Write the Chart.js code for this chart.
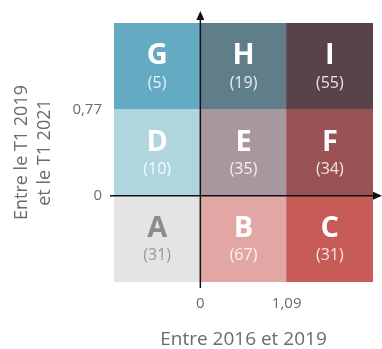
<!DOCTYPE html>
<html>
<head>
<meta charset="utf-8">
<script src="https://cdn.jsdelivr.net/npm/chart.js@4.4.1/dist/chart.umd.min.js"></script>
<style>
  html, body { margin: 0; padding: 0; background: #fff; }
  #wrap { width: 382px; height: 349px; }
</style>
</head>
<body>
<div id="wrap"><canvas id="grille"></canvas></div>
<script>
// Données de la matrice (lignes du bas vers le haut)
const columnCenters = [-0.5, 0.5, 1.5];
const rowBounds = [[-1, 0], [0, 1], [1, 2]];
const letters = [['A', 'B', 'C'], ['D', 'E', 'F'], ['G', 'H', 'I']];
const counts = [[31, 67, 31], [10, 35, 34], [5, 19, 55]];
const xTickValues = [0, 1];
const xTickLabels = ['0', '1,09'];
const yTickValues = [0, 1];
const yTickLabels = ['0', '0,77'];

// Couleurs
const cellColors = [
  ['#e4e4e4', '#e2a6a5', '#c65b57'],
  ['#afd5df', '#a8979f', '#9a5254'],
  ['#65aac3', '#607e8a', '#5a4249']
];
const letterColors = [
  ['#8c8c8c', '#ffffff', '#ffffff'],
  ['#ffffff', '#ffffff', '#ffffff'],
  ['#ffffff', '#ffffff', '#ffffff']
];
const countColors = [
  ['#999999', 'rgba(255,255,255,0.85)', 'rgba(255,255,255,0.85)'],
  ['rgba(255,255,255,0.9)', 'rgba(255,255,255,0.85)', 'rgba(255,255,255,0.85)'],
  ['rgba(255,255,255,0.85)', 'rgba(255,255,255,0.85)', 'rgba(255,255,255,0.85)']
];

const FONT = "'Open Sans', sans-serif";
const GREY = '#6b6b6b';

const datasets = rowBounds.map((b, r) => ({
  data: columnCenters.map(x => ({ x: x, y: b })),
  backgroundColor: cellColors[r],
  borderWidth: 0,
  barPercentage: 1,
  categoryPercentage: 1,
  grouped: false
}));

// lettres + effectifs au centre des cases
const cellLabels = {
  id: 'cellLabels',
  afterDatasetsDraw(chart) {
    const ctx = chart.ctx;
    ctx.save();
    ctx.textAlign = 'center';
    ctx.textBaseline = 'middle';
    chart.data.datasets.forEach((ds, r) => {
      chart.getDatasetMeta(r).data.forEach((el, c) => {
        const cy = (el.y + el.base) / 2;
        ctx.fillStyle = letterColors[r][c];
        ctx.font = "bold 29px " + FONT;
        ctx.fillText(letters[r][c], el.x, cy - 10);
        ctx.fillStyle = countColors[r][c];
        ctx.font = "16px " + FONT;
        ctx.fillText('(' + counts[r][c] + ')', el.x, cy + 17);
      });
    });
    ctx.restore();
  }
};

// axes avec flèches passant par (0,0)
const axesFleches = {
  id: 'axesFleches',
  afterDatasetsDraw(chart) {
    const { ctx, chartArea: a, scales: { x, y } } = chart;
    const x0 = x.getPixelForValue(0);
    const y0 = y.getPixelForValue(0);
    ctx.save();
    ctx.strokeStyle = '#111';
    ctx.fillStyle = '#111';
    ctx.lineWidth = 1.5;
    ctx.beginPath();
    ctx.moveTo(x0, a.bottom + 6);
    ctx.lineTo(x0, a.top - 5);
    ctx.moveTo(a.left - 4, y0);
    ctx.lineTo(a.right + 3, y0);
    ctx.stroke();
    ctx.beginPath();
    ctx.moveTo(x0, a.top - 12);
    ctx.lineTo(x0 - 4, a.top - 3);
    ctx.lineTo(x0 + 4, a.top - 3);
    ctx.closePath();
    ctx.fill();
    ctx.beginPath();
    ctx.moveTo(a.right + 9, y0);
    ctx.lineTo(a.right, y0 - 4);
    ctx.lineTo(a.right, y0 + 4);
    ctx.closePath();
    ctx.fill();
    ctx.restore();
  }
};

new Chart(document.getElementById('grille'), {
  type: 'bar',
  data: { datasets: datasets },
  options: {
    responsive: true,
    maintainAspectRatio: false,
    animation: false,
    layout: { padding: { left: 0, right: 9, top: 23, bottom: 0 } },
    plugins: { legend: { display: false }, tooltip: { enabled: false } },
    scales: {
      x: {
        type: 'linear',
        offset: false,
        min: -1,
        max: 2,
        afterBuildTicks: s => { s.ticks = xTickValues.map(v => ({ value: v })); },
        afterFit: s => { s.height = 67; },
        grid: { display: false, drawTicks: false, offset: false },
        border: { display: false },
        ticks: {
          padding: 13,
          color: GREY,
          font: { family: FONT, size: 15 },
          callback: v => xTickLabels[xTickValues.indexOf(v)]
        },
        title: {
          display: true,
          text: 'Entre 2016 et 2019',
          color: GREY,
          font: { family: FONT, size: 19, lineHeight: 1 },
          padding: { top: 0, bottom: 0 }
        }
      },
      y: {
        type: 'linear',
        min: -1,
        max: 2,
        afterBuildTicks: s => { s.ticks = yTickValues.map(v => ({ value: v })); },
        afterFit: s => { s.width = 114; },
        grid: { display: false, drawTicks: false },
        border: { display: false },
        ticks: {
          padding: 12,
          color: GREY,
          font: { family: FONT, size: 15 },
          callback: v => yTickLabels[yTickValues.indexOf(v)]
        },
        title: {
          display: true,
          text: ['Entre le T1 2019', 'et le T1 2021'],
          color: GREY,
          font: { family: FONT, size: 18, lineHeight: '23px' },
          padding: { top: 10, bottom: 0 }
        }
      }
    }
  },
  plugins: [cellLabels, axesFleches]
});
</script>
</body>
</html>
